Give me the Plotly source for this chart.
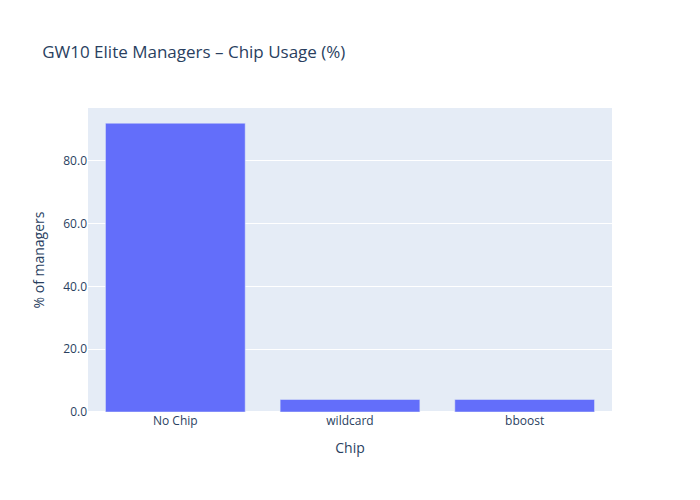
import plotly.graph_objects as go

chips = ["No Chip", "wildcard", "bboost"]
pct = [92.0, 4.0, 4.0]

fig = go.Figure(go.Bar(x=chips, y=pct, marker_color="#636efa"))
fig.update_layout(
    title="GW10 Elite Managers – Chip Usage (%)",
    xaxis_title="Chip",
    yaxis_title="% of managers",
    yaxis_tickformat=".1f",
)
fig.write_html("out.html")
